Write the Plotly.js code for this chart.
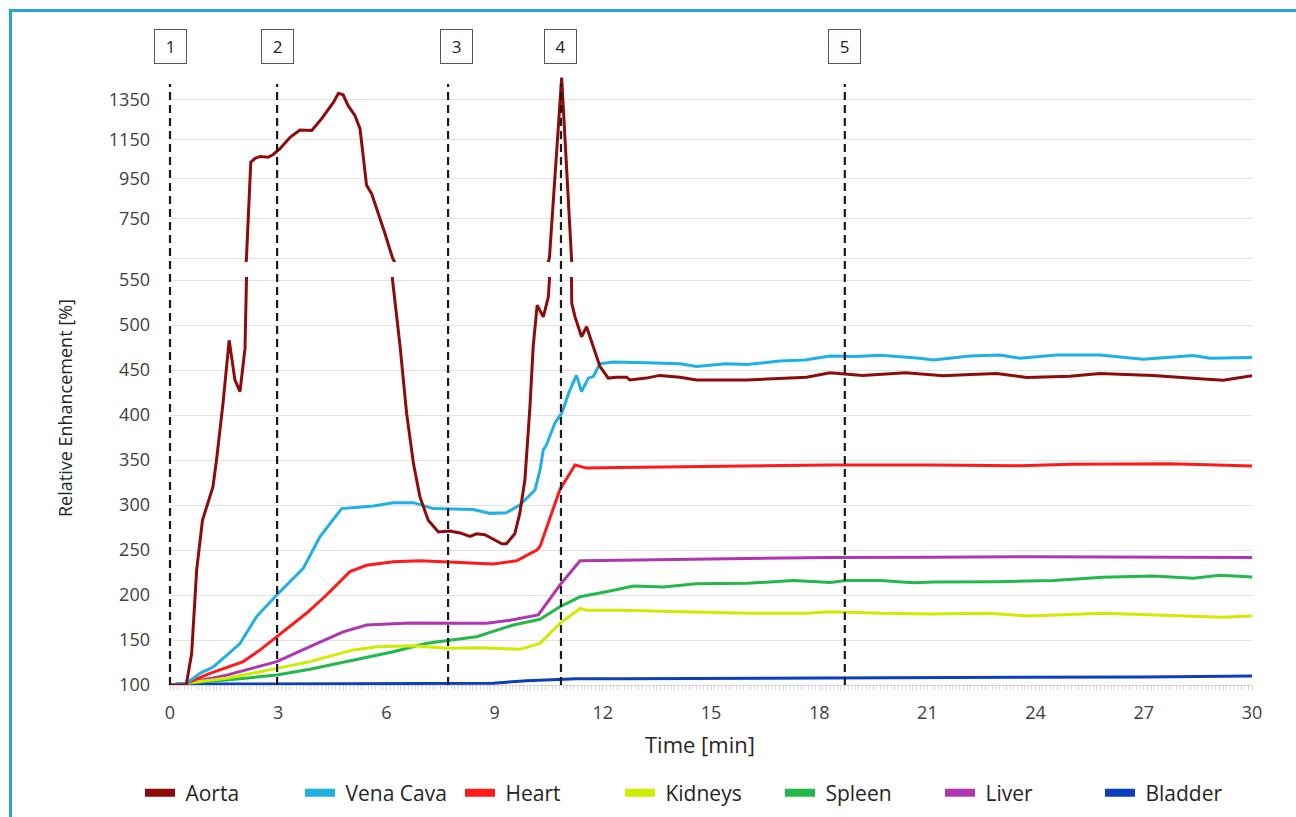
<!DOCTYPE html>
<html>
<head>
<meta charset="utf-8">
<script src="https://cdn.plot.ly/plotly-3.0.1.min.js"></script>
<style>
  html, body { margin: 0; padding: 0; background: #fff; }
  #chart { position: absolute; left: 0; top: 0; width: 1296px; height: 817px; }
  #frame { position: absolute; left: 9px; top: 9px; width: 1300px; height: 830px; border: 3px solid #29a3e0; pointer-events: none; box-sizing: border-box; }
</style>
</head>
<body>
<div id="chart"></div>
<div id="frame"></div>
<script>
// ---- data (time in min, relative enhancement in %) ----
const seriesNames = ['Aorta', 'Vena Cava', 'Heart', 'Kidneys', 'Spleen', 'Liver', 'Bladder'];
const seriesColors = ['#8e0b0b', '#1fb0e6', '#ff1a1a', '#cdec00', '#22b84a', '#b035b0', '#0b3fc0'];

const aortaTime = [0, 0.45, 0.6, 0.74, 0.9, 1.19, 1.29, 1.47, 1.64, 1.80, 1.94, 2.08, 2.12, 2.24, 2.36, 2.5, 2.72, 2.86, 3.05, 3.33, 3.6, 3.93, 4.2, 4.53, 4.67, 4.8, 4.94, 5.13, 5.27, 5.45, 5.59, 5.78, 5.96, 6.17, 6.38, 6.56, 6.75, 6.93, 7.16, 7.44, 7.76, 8.04, 8.32, 8.5, 8.73, 8.96, 9.2, 9.33, 9.56, 9.7, 9.84, 9.98, 10.07, 10.18, 10.35, 10.49, 10.52, 10.86, 11.12, 11.14, 11.23, 11.41, 11.55, 11.74, 11.92, 12.15, 12.38, 12.66, 12.75, 13.21, 13.58, 14.14, 14.6, 16.0, 17.65, 18.3, 19.2, 20.4, 21.07, 21.44, 22.2, 22.92, 23.75, 24.95, 25.78, 27.26, 28.65, 29.2, 30];
const aortaValues = [100, 100, 135, 228, 283, 320, 350, 413, 483, 439, 426, 474, 550, 1035, 1054, 1064, 1060, 1074, 1103, 1161, 1198, 1195, 1254, 1337, 1383, 1376, 1321, 1270, 1203, 918, 876, 775, 674, 550, 476, 402, 346, 309, 283, 270, 271, 269, 265, 268, 267, 262, 257, 257, 268, 291, 328, 409, 476, 522, 509, 531, 550, 1463, 550, 524, 509, 487, 498, 476, 454, 441, 442, 442, 439, 441, 444, 442, 439, 439, 442, 447, 444, 447, 445, 443.5, 445, 446, 441.7, 443, 446, 444, 440, 438.7, 443.5];

const venaCavaTime = [0, 0.46, 0.83, 1.2, 1.57, 1.94, 2.4, 2.96, 3.7, 4.16, 4.76, 4.99, 5.64, 6.19, 6.75, 7.3, 8.04, 8.41, 8.87, 9.33, 9.7, 10.12, 10.26, 10.35, 10.44, 10.67, 10.86, 11.09, 11.27, 11.41, 11.6, 11.74, 11.92, 12.29, 13.2, 14.14, 14.6, 15.4, 16.0, 16.9, 17.6, 18.3, 19.0, 19.7, 20.79, 21.16, 22.18, 23.01, 23.57, 24.58, 25.78, 26.98, 28.37, 28.84, 30];
const venaCavaValues = [100, 102, 113, 120, 133, 146, 176, 200, 230, 265, 296, 297, 299, 302.6, 302.6, 296, 295.5, 295, 290.7, 291.5, 300, 316.7, 339, 361, 367, 391, 402, 428, 444, 426, 441, 443, 457, 459, 458, 457, 454, 457, 456, 460, 461, 465.5, 465, 466.5, 463, 461, 465.5, 466.7, 463, 466.7, 466.7, 462, 466, 463, 464];

const heartTime = [0, 0.46, 1.11, 2.03, 2.5, 2.96, 3.79, 4.34, 4.99, 5.45, 6.19, 6.93, 8.04, 8.96, 9.61, 10.17, 10.26, 10.81, 11.23, 11.55, 12.5, 14.14, 16.9, 18.3, 21.07, 23.57, 25.0, 27.7, 28.5, 30];
const heartValues = [100, 102, 113, 126, 139, 154, 180, 200, 226, 233, 237, 238, 236, 234.4, 238, 250, 254, 317, 344.4, 341, 341.8, 342.6, 344, 344.4, 344.4, 343.6, 345.4, 345.8, 345, 343.3];

const kidneysTime = [0, 0.46, 1.57, 2.96, 3.88, 5.08, 5.73, 6.75, 7.67, 8.59, 9.7, 10.26, 10.81, 11.37, 11.55, 12.48, 14.14, 16.0, 17.65, 18.3, 19.7, 21.07, 22.64, 23.84, 25.87, 28.19, 29.2, 30];
const kidneysValues = [100, 102, 107.4, 118.5, 126, 139, 142.6, 143.7, 140.7, 141.5, 139.6, 146.3, 168.5, 185, 183, 183, 181.5, 179.6, 179.6, 181.5, 179.6, 179, 179.6, 176.7, 179.6, 176.7, 175.2, 176.7];

const spleenTime = [0, 0.46, 1.57, 2.96, 3.88, 5.08, 6.19, 7.12, 7.67, 8.5, 9.52, 10.26, 10.81, 11.37, 12.1, 12.85, 13.68, 14.6, 16.0, 17.28, 18.3, 18.76, 19.7, 20.6, 21.2, 22.92, 24.49, 25.87, 27.26, 28.37, 29.11, 30];
const spleenValues = [100, 102, 105.5, 111, 117.4, 127.8, 137, 146.3, 149, 153.7, 166.7, 173, 187, 198, 203.7, 210, 209, 212.6, 213, 216, 214, 216, 216, 213.7, 214.4, 214.8, 216, 219.7, 221.2, 218.5, 222, 220];

const liverTime = [0, 0.46, 1.57, 2.96, 3.88, 4.8, 5.45, 6.65, 8.04, 8.78, 9.43, 10.21, 10.81, 11.37, 12.48, 16.0, 18.3, 21.07, 24.0, 30];
const liverValues = [100, 102, 111, 126, 142.6, 159, 166.7, 169, 168.6, 168.6, 172, 177.8, 211, 238, 238.5, 240.7, 241.8, 242, 242.5, 241.8];

const bladderTime = [0, 0.46, 5.0, 8.96, 9.89, 11.27, 12.5, 18.0, 21.0, 27.0, 30];
const bladderValues = [100, 101, 101.5, 102, 104.8, 107, 107, 107.5, 108.1, 109, 109.9];

const phaseLabels = ['1', '2', '3', '4', '5'];
const phaseTimes = [0, 2.97, 7.71, 10.84, 18.71];

const xTicks = [0, 3, 6, 9, 12, 15, 18, 21, 24, 27, 30];
const yLowerTicks = [100, 150, 200, 250, 300, 350, 400, 450, 500, 550];
const yUpperTicks = [550, 750, 950, 1150, 1350];
const yUpperTickText = ['', '750', '950', '1150', '1350'];

// ---- traces ----
const seriesTimes = [aortaTime, venaCavaTime, heartTime, kidneysTime, spleenTime, liverTime, bladderTime];
const seriesValues = [aortaValues, venaCavaValues, heartValues, kidneysValues, spleenValues, liverValues, bladderValues];

const traces = [];
for (let i = seriesNames.length - 1; i >= 0; i--) {
  traces.push({
    type: 'scatter', mode: 'lines', name: seriesNames[i],
    x: seriesTimes[i], y: seriesValues[i],
    xaxis: 'x', yaxis: 'y',
    line: { color: seriesColors[i], width: 3 },
    showlegend: false
  });
}
// aorta upper part (broken axis)
traces.push({
  type: 'scatter', mode: 'lines', name: seriesNames[0],
  x: aortaTime, y: aortaValues, xaxis: 'x', yaxis: 'y2',
  line: { color: seriesColors[0], width: 3 }, showlegend: false
});
// legend entries
for (let i = 0; i < seriesNames.length; i++) {
  traces.push({
    type: 'scatter', mode: 'lines', name: '\u00A0' + seriesNames[i],
    x: [null], y: [null], xaxis: 'x', yaxis: 'y',
    line: { color: seriesColors[i], width: 8 }, showlegend: true
  });
}

// ---- layout ----
const plotTop = 75, plotBottom = 685, plotH = plotBottom - plotTop;
const xMax = 30;
const py = p => (plotBottom - p) / plotH;   // pixel row -> paper y

const shapes = phaseTimes.map(t => ({
  type: 'line', xref: 'paper', yref: 'paper', x0: t / xMax, x1: t / xMax, y0: 0, y1: py(84),
  line: { color: '#1a1a1a', width: 2.2, dash: '8px,5px' }, layer: 'above'
}));

const annotations = phaseLabels.map((lab, i) => ({
  text: lab, xref: 'x', yref: 'paper', x: phaseTimes[i], y: py(47),
  xshift: i === 2 ? 8 : 0,
  showarrow: false, font: { family: 'Open Sans', size: 17, color: '#222' },
  bordercolor: '#555', borderwidth: 1, borderpad: 0, bgcolor: '#fff',
  width: 31, height: 33, align: 'center', valign: 'middle',
  xanchor: 'center', yanchor: 'middle'
}));
annotations.push({
  text: 'Relative Enhancement [%]', xref: 'paper', yref: 'paper',
  x: (65 - 170) / 1082, y: py(408), textangle: -90, showarrow: false,
  font: { family: 'Open Sans', size: 18, color: '#262626' },
  xanchor: 'center', yanchor: 'middle'
});
annotations.push({
  text: 'Time [min]', xref: 'paper', yref: 'paper',
  x: (700 - 170) / 1082, y: py(744), showarrow: false,
  font: { family: 'Open Sans', size: 22, color: '#262626' },
  xanchor: 'center', yanchor: 'middle'
});

const layout = {
  width: 1296, height: 817,
  margin: { l: 170, r: 44, t: plotTop, b: 817 - plotBottom, autoexpand: false },
  paper_bgcolor: '#fff', plot_bgcolor: '#fff',
  font: { family: 'Open Sans', size: 18, color: '#404040' },
  showlegend: true,
  legend: {
    orientation: 'h', x: (140 - 170) / 1082, xanchor: 'left', y: py(793), yanchor: 'middle',
    font: { family: 'Open Sans', size: 21, color: '#262626' },
    entrywidth: 115, itemwidth: 30, traceorder: 'normal'
  },
  xaxis: {
    range: [0, xMax], tickvals: xTicks, showgrid: false, zeroline: false,
    showline: true, linecolor: '#d4d4d4', linewidth: 1,
    ticks: 'outside', ticklen: 4, tickcolor: '#d4d4d4', ticklabelstandoff: 7,
    minor: { dtick: 0.1, ticks: 'outside', ticklen: 4, tickcolor: '#dcdcdc', showgrid: false },
    tickfont: { family: 'Open Sans', size: 18, color: '#404040' },
    anchor: 'y'
  },
  yaxis: {
    domain: [0, py(277)], range: [100, 100 + (plotBottom - 277) / 0.9],
    tickvals: yLowerTicks, showgrid: true, gridcolor: '#e3e3e3', gridwidth: 1,
    zeroline: false, showline: false, ticks: '', ticklabelstandoff: 19,
    tickfont: { family: 'Open Sans', size: 18, color: '#404040' }, anchor: 'x'
  },
  yaxis2: {
    domain: [py(262), 1], range: [530, 1476],
    tickvals: yUpperTicks, ticktext: yUpperTickText, showgrid: true, gridcolor: '#e3e3e3', gridwidth: 1,
    zeroline: false, showline: false, ticks: '', ticklabelstandoff: 19,
    tickfont: { family: 'Open Sans', size: 18, color: '#404040' }, anchor: 'x'
  },
  shapes: shapes,
  annotations: annotations
};

Plotly.newPlot('chart', traces, layout, { displayModeBar: false, staticPlot: true });
</script>
</body>
</html>
